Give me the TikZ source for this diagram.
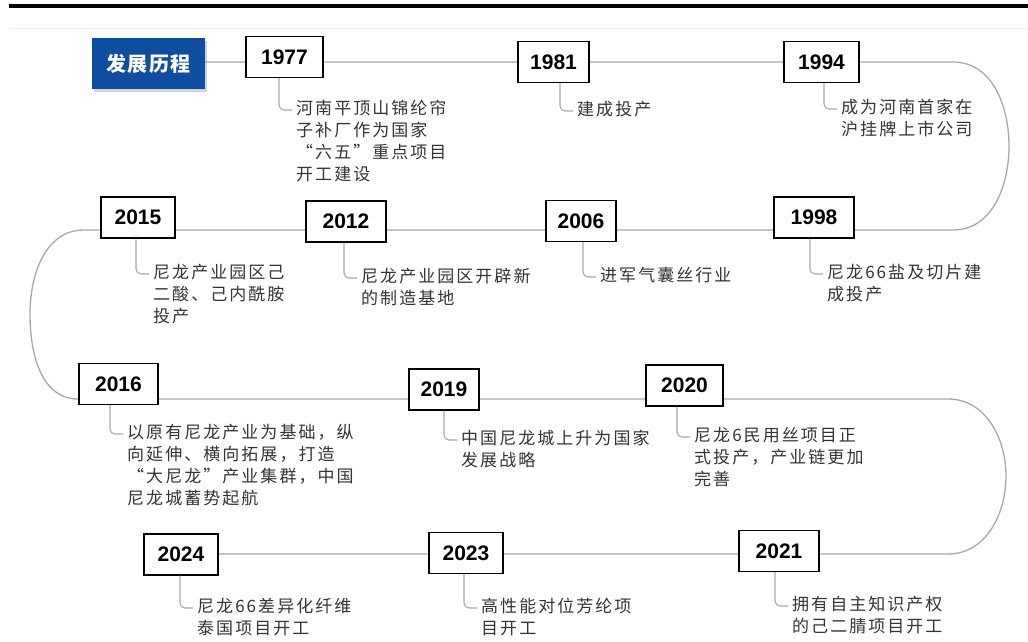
\documentclass[tikz,border=0pt]{standalone}
\usepackage{fontspec}
\usetikzlibrary{backgrounds,shadows}

\newfontfamily\cjk[LetterSpace=12]{Noto Sans CJK SC}
\newfontfamily\cjkhead[LetterSpace=8]{Noto Sans CJK SC}
\newfontfamily\yearfont{Liberation Sans}

\definecolor{titleblue}{HTML}{0E4DA0}
\definecolor{trackgray}{HTML}{A8A8A8}
\definecolor{desctext}{HTML}{333333}

\tikzset{
  yearbox/.style={draw=black, line width=1.3pt, fill=white, minimum width=76pt,
    minimum height=41pt, inner sep=0pt, font=\yearfont\bfseries\fontsize{21}{24}\selectfont},
  desc/.style={anchor=north west, inner sep=0pt, align=left, text=desctext,
    font=\cjk\fontsize{17}{22}\selectfont},
  track/.style={draw=trackgray, line width=1.3pt},
  conn/.style={draw=trackgray, line width=1.1pt, rounded corners=5pt},
}

% connector from a year box down to its text
\newcommand{\linkto}[2]{\draw[conn] ([xshift=-17pt]#2.north west |- #1.south) |- ([shift={(-4pt,-10pt)}]#2.north west);}

\begin{document}
\begin{tikzpicture}[x=1pt,y=-1pt]
    \useasboundingbox (0,0) rectangle (1028,642);

    % Header rules
    \draw[line width=4pt] (9,6) -- (1028,6);
    \draw[black!6] (9,28) -- (1028,28);

    % Title box
    \node[fill=titleblue, minimum width=113pt, minimum height=51pt, text=white,
      font=\cjkhead\bfseries\fontsize{20}{24}\selectfont,
      drop shadow={shadow xshift=2pt, shadow yshift=-3pt, opacity=0.35}] (title) at (148.5,63.5) {发展历程};

    % Row 1
    \node[yearbox, minimum width=77pt] (y1977) at (284.5,57) {1977};
    \node[yearbox, minimum width=71pt] (y1981) at (553.5,62) {1981};
    \node[yearbox, minimum width=75pt] (y1994) at (821.5,62) {1994};

    % Row 2
    \node[yearbox, minimum width=80pt] (y1998) at (814,217.5) {1998};
    \node[yearbox, minimum width=70pt] (y2006) at (581,221) {2006};
    \node[yearbox, minimum width=80pt] (y2012) at (346,221.5) {2012};
    \node[yearbox, minimum width=74pt] (y2015) at (138,217.5) {2015};

    % Row 3
    \node[yearbox, minimum width=79pt] (y2016) at (118.5,384) {2016};
    \node[yearbox, minimum width=70pt] (y2019) at (444,389.5) {2019};
    \node[yearbox, minimum width=77pt] (y2020) at (684.5,385.5) {2020};

    % Row 4
    \node[yearbox, minimum width=80pt] (y2021) at (779,551) {2021};
    \node[yearbox, minimum width=74pt] (y2023) at (466,553) {2023};
    \node[yearbox, minimum width=74pt] (y2024) at (181,554.5) {2024};

    % Texts
    \node[desc] (t1977) at (296,100) {河南平顶山锦纶帘\\子补厂作为国家\\“六五”重点项目\\开工建设};
    \node[desc] (t1981) at (577,101) {建成投产};
    \node[desc] (t1994) at (841,99) {成为河南首家在\\沪挂牌上市公司};
    \node[desc] (t1998) at (827,264) {尼龙66盐及切片建\\成投产};
    \node[desc] (t2006) at (600,267) {进军气囊丝行业};
    \node[desc] (t2012) at (361,268) {尼龙产业园区开辟新\\的制造基地};
    \node[desc] (t2015) at (153,264) {尼龙产业园区己\\二酸、己内酰胺\\投产};
    \node[desc] (t2016) at (127,424) {以原有尼龙产业为基础，纵\\向延伸、横向拓展，打造\\“大尼龙”产业集群，中国\\尼龙城蓄势起航};
    \node[desc] (t2019) at (461,430) {中国尼龙城上升为国家\\发展战略};
    \node[desc] (t2020) at (694,427) {尼龙6民用丝项目正\\式投产，产业链更加\\完善};
    \node[desc] (t2024) at (197,598) {尼龙66差异化纤维\\泰国项目开工};
    \node[desc] (t2023) at (481,598) {高性能对位芳纶项\\目开工};
    \node[desc] (t2021) at (792,596) {拥有自主知识产权\\的己二腈项目开工};

    % Connectors
    \foreach \yr in {1977,1981,1994,1998,2006,2012,2015,2016,2019,2020,2024,2023,2021}
        {\linkto{y\yr}{t\yr}}

    % Timeline track
    \begin{scope}[on background layer]
        \coordinate (r1) at (0,62);
        \coordinate (r2) at (0,230);
        \coordinate (r3) at (0,399);
        \coordinate (r4) at (0,554);
        \draw[track] (title.east |- r1) -- (953,62) to[out=0,in=90] (1009,146)
            to[out=-90,in=0] (953,230) -- (84,230) to[out=180,in=90] (30,314)
            to[out=-90,in=180] (y2016.west |- r3) -- (948,399) to[out=0,in=90] (1006,476)
            to[out=-90,in=0] (948,554) -- (y2024.east |- r4);
    \end{scope}
\end{tikzpicture}
\end{document}
